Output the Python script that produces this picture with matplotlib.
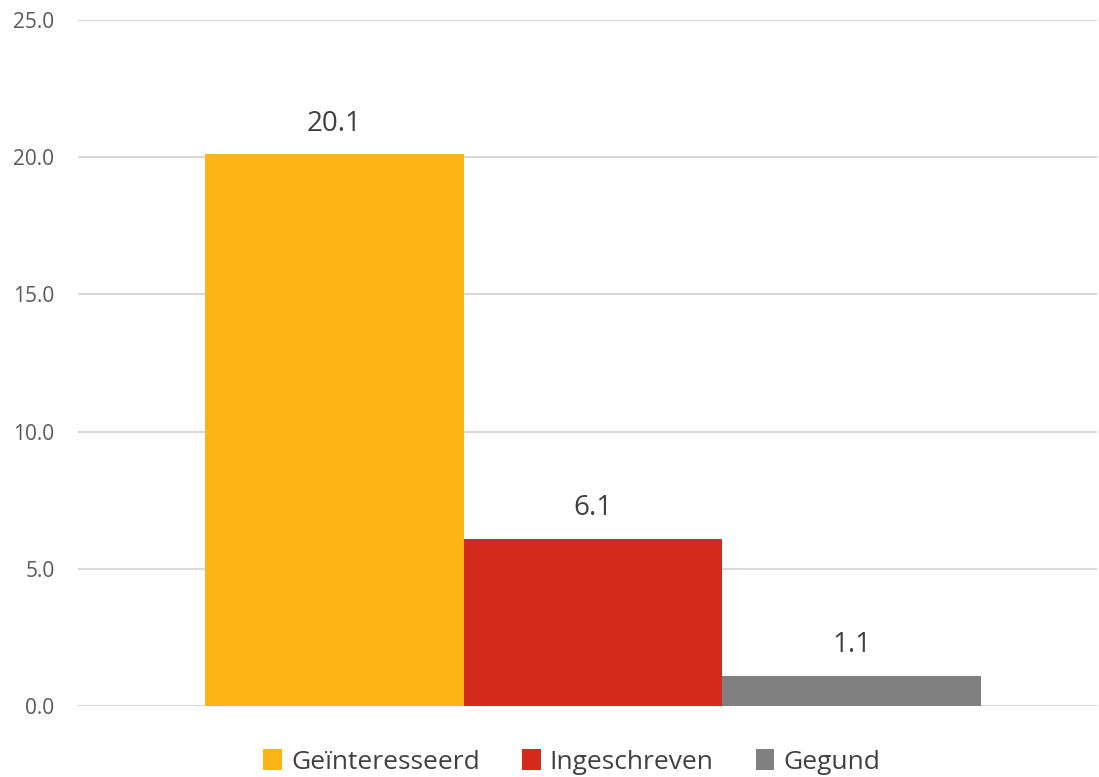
import matplotlib
matplotlib.use("Agg")
import matplotlib.pyplot as plt

# data
categories = ["Geïnteresseerd", "Ingeschreven", "Gegund"]
values = [20.1, 6.1, 1.1]
colors = ["#FDB515", "#D52B1E", "#808080"]
yticks = [0, 5, 10, 15, 20, 25]

plt.rcParams['font.family'] = ['Open Sans', 'DejaVu Sans']

fig = plt.figure(figsize=(10.99, 7.77), dpi=100)
ax = fig.add_axes([78/1099, 71/777, (1097-78)/1099, (706-20)/777])

for i, (cat, val, col) in enumerate(zip(categories, values, colors)):
    ax.bar(i, val, width=1.0, color=col, label=cat, zorder=3)
    ax.text(i, val + 0.6, f"{val:.1f}", ha="center", va="bottom",
            fontsize=20, color="#404040")

ax.set_xlim(-0.991, 2.948)
ax.set_ylim(0, 25)
ax.set_yticks(yticks)
ax.set_yticklabels([f"{t:.1f}" for t in yticks], fontsize=15, color="#595959")
ax.set_xticks([])
ax.tick_params(axis="y", length=0, pad=17)
ax.grid(axis="y", color="#d9d9d9", linewidth=1.5, zorder=0)
for s in ax.spines.values():
    s.set_visible(False)

handles, labels = ax.get_legend_handles_labels()
fig.legend(handles, labels, loc="center", bbox_to_anchor=(572/1099, 1 - 762/777),
           ncol=3, frameon=False, fontsize=19, handlelength=0.7, handleheight=0.8,
           handletextpad=0.35, columnspacing=1.6, labelcolor="#404040")

fig.savefig("out.png", dpi=100)
